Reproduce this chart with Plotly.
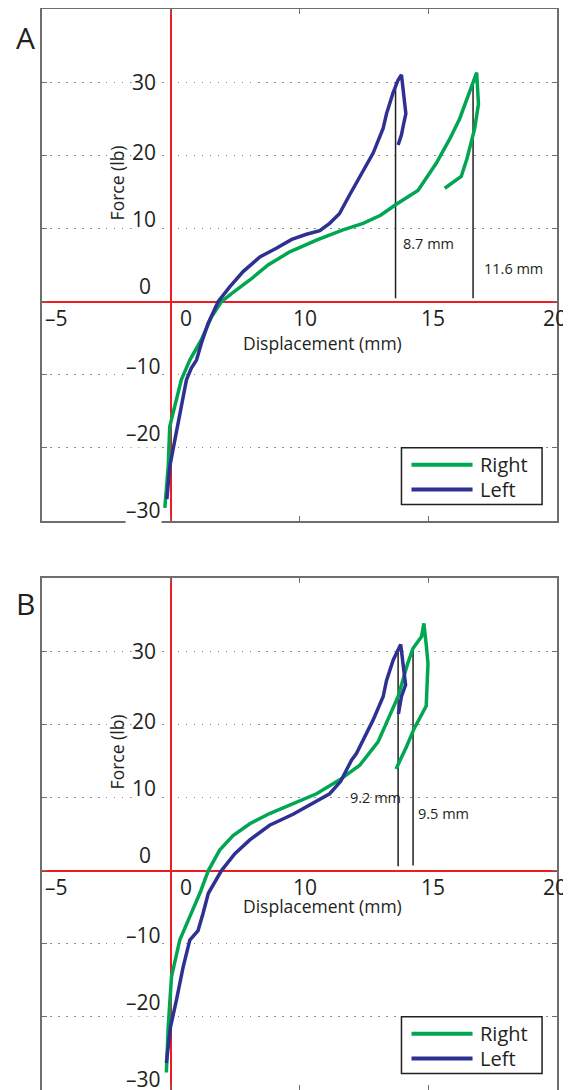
import plotly.graph_objects as go

# ---------------- data (displacement in mm from the red origin line, force in lb) -------------
A_right_x = [-0.23, -0.10, -0.04, 0.16, 0.41, 0.74, 1.19, 1.58, 1.97, 2.36, 3.07, 3.78, 4.62, 5.66,
             6.69, 7.47, 8.15, 8.76, 9.60, 10.31, 10.83, 11.22, 11.48, 11.74, 11.88, 11.95, 11.80,
             11.50, 11.28, 10.64]
A_right_y = [-28.2, -22.6, -17.1, -14.4, -10.7, -8.0, -5.2, -2.1, 0.0, 1.1, 2.95, 5.0, 6.8, 8.4,
             9.8, 10.7, 11.8, 13.3, 15.2, 18.9, 22.2, 25.0, 27.5, 29.9, 31.3, 27.0, 23.6,
             19.5, 17.1, 15.5]
A_left_x = [-0.15, -0.04, 0.16, 0.41, 0.61, 0.80, 1.00, 1.19, 1.45, 1.84, 2.29, 2.81, 3.46, 4.10,
            4.70, 5.27, 5.79, 6.17, 6.55, 6.95, 7.21, 7.86, 8.25, 8.38, 8.63, 8.83, 8.96, 9.02,
            9.13, 9.02, 8.96, 8.83]
A_left_y = [-27.0, -22.6, -18.9, -14.4, -10.7, -9.1, -8.0, -5.7, -3.0, 0.0, 2.0, 4.1, 6.1, 7.3,
            8.5, 9.2, 9.7, 10.7, 12.0, 14.6, 16.2, 20.3, 23.7, 25.7, 28.5, 30.3, 31.0, 28.9,
            25.7, 23.9, 22.8, 21.4]

B_right_x = [-0.17, -0.10, 0.03, 0.35, 0.74, 1.13, 1.46, 1.90, 2.42, 3.07, 3.84, 4.75, 5.66, 6.56,
             7.34, 8.05, 8.55, 8.83, 9.20, 9.41, 9.74, 9.83, 9.93, 9.99, 9.92, 9.45, 9.15, 8.75]
B_right_y = [-27.6, -21.4, -14.5, -9.5, -6.3, -3.1, 0.0, 2.8, 4.8, 6.4, 7.8, 9.2, 10.5, 12.4,
             14.4, 17.6, 21.7, 23.8, 28.3, 30.4, 32.0, 33.8, 30.6, 28.3, 22.5, 19.4, 16.9, 13.9]
B_left_x = [-0.17, -0.01, 0.22, 0.48, 0.74, 1.06, 1.25, 1.46, 1.97, 2.49, 3.07, 3.84, 4.75, 5.70,
            6.17, 6.60, 7.02, 7.21, 7.86, 8.25, 8.38, 8.64, 8.93, 9.05, 9.12, 8.96, 8.84]
B_left_y = [-26.3, -21.4, -17.7, -13.2, -9.5, -8.2, -5.9, -3.1, 0.0, 2.3, 4.2, 6.2, 7.7, 9.5,
            10.5, 12.2, 15.1, 16.0, 20.6, 23.8, 26.0, 28.8, 30.9, 27.4, 25.4, 23.8, 21.4]

# vertical measurement lines (x position, bottom force, top force) and their labels
A_meas_x = [8.73, 11.74]
A_meas_bottom = [0.45, 0.45]
A_meas_top = [30.0, 30.0]
A_meas_labels = ["8.7 mm", "11.6 mm"]
B_meas_x = [8.83, 9.41]
B_meas_bottom = [0.6, 0.7]
B_meas_top = [30.1, 30.4]
B_meas_labels = ["9.2 mm", "9.5 mm"]

series_names = ["Right", "Left"]
x_tick_labels = ["–5", "0", "10", "15", "20"]
y_tick_labels = ["30", "20", "10", "0", "–10", "–20", "–30"]
x_title = "Displacement (mm)"
y_title = "Force (lb)"
panel_letters = ["A", "B"]

# ---------------- styling ----------------
GREEN = "#00A651"
BLUE = "#2E3192"
RED = "#ED1C24"
FRAME = "#6E6E6E"
INK = "#231F20"
FONT = "Open Sans"

OFF = 8  # page body margin of the html page
W, H = 571 - OFF, 1090 - OFF
ML, MR, MT, MB = 42 - OFF, 14, 9 - OFF, 0
PW = W - ML - MR
PH = H - MT - MB


def page_y_to_paper(py):
    return (H - MB - (py - OFF)) / PH


def page_x_to_paper(px):
    return (px - OFF - ML) / PW


fig = go.Figure()

panels = [
    dict(xa="x", ya="y", right=(A_right_x, A_right_y), left=(A_left_x, A_left_y),
         mx=A_meas_x, mb=A_meas_bottom, mt=A_meas_top, ml=A_meas_labels,
         mlpos=[(8.96, 8.0), (12.07, 4.55)], xtitle_y=-5.6),
    dict(xa="x2", ya="y2", right=(B_right_x, B_right_y), left=(B_left_x, B_left_y),
         mx=B_meas_x, mb=B_meas_bottom, mt=B_meas_top, ml=B_meas_labels,
         mlpos=[(6.89, 10.0), (9.51, 7.8)], xtitle_y=-4.9),
]

annotations = []
shapes = []

for p in panels:
    xa, ya = p["xa"], p["ya"]
    # measurement lines
    for mx, mb, mt in zip(p["mx"], p["mb"], p["mt"]):
        fig.add_trace(go.Scatter(x=[mx, mx], y=[mb, mt], mode="lines",
                                 line=dict(color=INK, width=1.5), xaxis=xa, yaxis=ya,
                                 showlegend=False, hoverinfo="skip"))
    # curves
    fig.add_trace(go.Scatter(x=p["right"][0], y=p["right"][1], mode="lines", name=series_names[0],
                             line=dict(color=GREEN, width=3.5), xaxis=xa, yaxis=ya, showlegend=False))
    fig.add_trace(go.Scatter(x=p["left"][0], y=p["left"][1], mode="lines", name=series_names[1],
                             line=dict(color=BLUE, width=3.5), xaxis=xa, yaxis=ya, showlegend=False))

    # measurement labels
    for txt, (lx, ly) in zip(p["ml"], p["mlpos"]):
        annotations.append(dict(x=lx, y=ly, xref=xa, yref=ya, text=txt, showarrow=False,
                                xanchor="left", yanchor="middle",
                                font=dict(family=FONT, size=14.5, color=INK)))

    # x tick labels (placed just under the red zero line)
    for txt, lx in zip(x_tick_labels, [-4.42, 0.6, 5.2, 10.18, 14.93]):
        annotations.append(dict(x=lx, y=-2.2, xref=xa, yref=ya, text=txt, showarrow=False,
                                xanchor="center", yanchor="middle",
                                font=dict(family=FONT, size=21, color=INK)))
    # y tick labels (left of the red zero line)
    ylab_pos = [(-0.54, 30.0), (-0.54, 20.4), (-0.54, 11.35), (-0.74, 2.1),
                (-0.35, -8.75), (-0.35, -18.0), (-0.35, -28.5)]
    for txt, (lx, ly) in zip(y_tick_labels, ylab_pos):
        annotations.append(dict(x=lx, y=ly, xref=xa, yref=ya, text=txt, showarrow=False,
                                xanchor="right", yanchor="middle", bgcolor="white", borderpad=0,
                                font=dict(family=FONT, size=21, color=INK)))
    # axis titles
    annotations.append(dict(x=5.9, y=p["xtitle_y"], xref=xa, yref=ya, text=x_title, showarrow=False,
                            xanchor="center", yanchor="middle",
                            font=dict(family=FONT, size=17.5, color=INK)))
    annotations.append(dict(x=-2.1, y=16.25, xref=xa, yref=ya, text=y_title, showarrow=False,
                            textangle=-90, xanchor="center", yanchor="middle",
                            font=dict(family=FONT, size=17.5, color=INK)))

    # legend box
    shapes.append(dict(type="rect", xref=xa, yref=ya, x0=8.96, x1=14.42, y0=-27.75, y1=-20.0,
                       line=dict(color=INK, width=1.5), fillcolor="white", layer="above"))
    for name, col, ry in zip(series_names, [GREEN, BLUE], [-22.3, -25.7]):
        shapes.append(dict(type="line", xref=xa, yref=ya, x0=9.35, x1=11.72, y0=ry, y1=ry,
                           line=dict(color=col, width=4), layer="above"))
        annotations.append(dict(x=11.93, y=ry, xref=xa, yref=ya, text=name, showarrow=False,
                                xanchor="left", yanchor="middle",
                                font=dict(family=FONT, size=20, color=INK)))

# panel letters
for letter, py in zip(panel_letters, [37.5, 603.5]):
    annotations.append(dict(x=page_x_to_paper(25), y=page_y_to_paper(py), xref="paper", yref="paper",
                            text=letter, showarrow=False, xanchor="center", yanchor="middle",
                            font=dict(family=FONT, size=30, color=INK)))

xcommon = dict(range=[-5, 15], tickvals=[-5, 0, 5, 10, 15], showticklabels=False,
               ticks="inside", ticklen=5, tickcolor=FRAME, tickwidth=1.2,
               showline=True, linecolor=FRAME, linewidth=1.5, mirror="allticks",
               showgrid=False, zeroline=True, zerolinecolor=RED, zerolinewidth=1.8,
               fixedrange=True)
ycommon = dict(range=[-30, 40], tickvals=[-30, -20, -10, 0, 10, 20, 30], showticklabels=False,
               ticks="inside", ticklen=5, tickcolor=FRAME, tickwidth=1.2,
               showline=True, linecolor=FRAME, linewidth=1.5, mirror="allticks",
               showgrid=True, gridcolor="#8a8a8a", gridwidth=1.2, griddash="1.5px,6.5px",
               zeroline=True, zerolinecolor=RED, zerolinewidth=1.8, fixedrange=True)

fig.update_layout(
    width=W, height=H,
    margin=dict(l=ML, r=MR, t=MT, b=MB),
    paper_bgcolor="white", plot_bgcolor="white",
    showlegend=False,
    xaxis=dict(**xcommon, domain=[0, 1], anchor="y"),
    yaxis=dict(**ycommon, domain=[page_y_to_paper(521), 1], anchor="x"),
    xaxis2=dict(**xcommon, domain=[0, 1], anchor="y2"),
    yaxis2=dict(**ycommon, domain=[0, page_y_to_paper(578)], anchor="x2"),
    annotations=annotations,
    shapes=shapes,
)

fig.write_html("out.html")
